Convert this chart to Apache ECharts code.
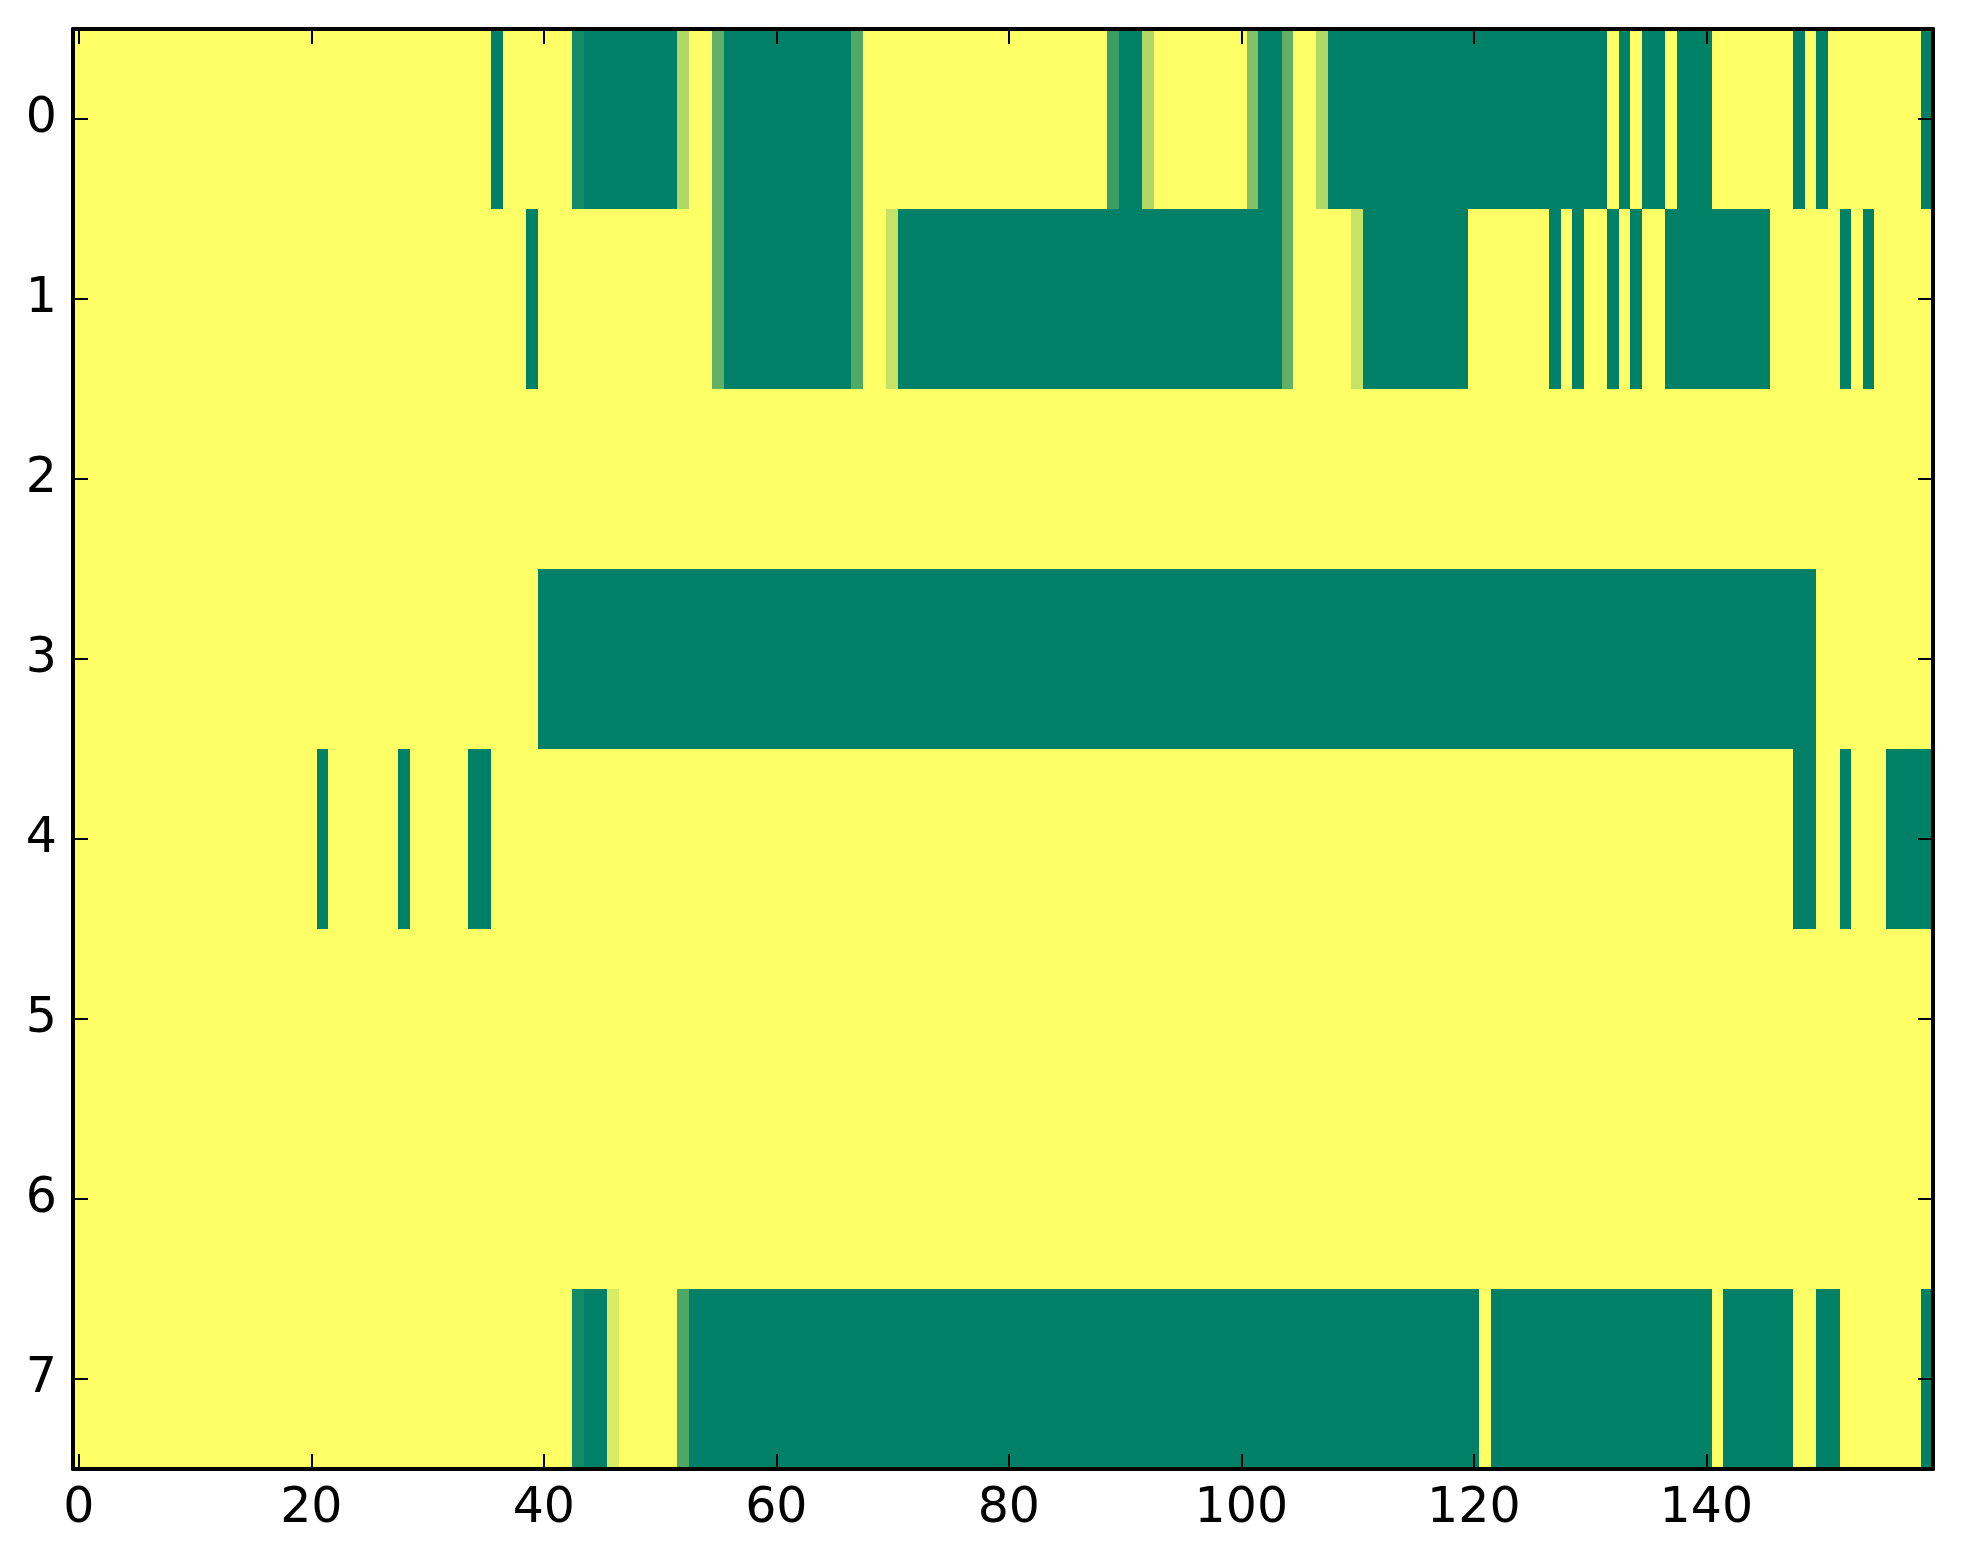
<!DOCTYPE html>
<html>
<head>
<meta charset="utf-8">
<script src="https://cdn.jsdelivr.net/npm/echarts@6/dist/echarts.min.js"></script>
<style>
html,body{margin:0;padding:0;background:#fff;}
#chart{width:1963px;height:1564px;}
</style>
</head>
<body>
<div id="chart"></div>
<script>
// column categories 0..159 and row categories 0..7
const colLabels = [];
for (let i = 0; i < 160; i++) colLabels.push(String(i));
const rowLabels = ['0','1','2','3','4','5','6','7'];

const row0 = [
0,0,0,0,0,0,0,0,0,0, 0,0,0,0,0,0,0,0,0,0,
0,0,0,0,0,0,0,0,0,0, 0,0,0,0,0,0,1,0,0,0,
0,0,0,0.92,1,1,1,1,1,1, 1,1,0.31,0,0,0.62,1,1,1,1,
1,1,1,1,1,1,1,0.68,0,0, 0,0,0,0,0,0,0,0,0,0,
0,0,0,0,0,0,0,0,0,0.77, 1,1,0.31,0,0,0,0,0,0,0,
0,0.49,1,1,0.62,0,0,0.31,1,1, 1,1,1,1,1,1,1,1,1,1,
1,1,1,1,1,1,1,1,1,1, 1,1,0,1,0,1,1,0,1,1,
1,0,0,0,0,0,0,0,1,0, 1,0,0,0,0,0,0,0,0,1
];
const row1 = [
0,0,0,0,0,0,0,0,0,0, 0,0,0,0,0,0,0,0,0,0,
0,0,0,0,0,0,0,0,0,0, 0,0,0,0,0,0,0,0,0,1,
0,0,0,0,0,0,0,0,0,0, 0,0,0,0,0,0.62,1,1,1,1,
1,1,1,1,1,1,1,0.68,0,0, 0.22,1,1,1,1,1,1,1,1,1,
1,1,1,1,1,1,1,1,1,1, 1,1,1,1,1,1,1,1,1,1,
1,1,1,1,0.62,0,0,0,0,0, 0.22,1,1,1,1,1,1,1,1,1,
0,0,0,0,0,0,0,1,0,1, 0,0,1,0,1,0,0,1,1,1,
1,1,1,1,1,1,0,0,0,0, 0,0,1,0,1,0,0,0,0,0
];
const row2 = [
0,0,0,0,0,0,0,0,0,0, 0,0,0,0,0,0,0,0,0,0,
0,0,0,0,0,0,0,0,0,0, 0,0,0,0,0,0,0,0,0,0,
0,0,0,0,0,0,0,0,0,0, 0,0,0,0,0,0,0,0,0,0,
0,0,0,0,0,0,0,0,0,0, 0,0,0,0,0,0,0,0,0,0,
0,0,0,0,0,0,0,0,0,0, 0,0,0,0,0,0,0,0,0,0,
0,0,0,0,0,0,0,0,0,0, 0,0,0,0,0,0,0,0,0,0,
0,0,0,0,0,0,0,0,0,0, 0,0,0,0,0,0,0,0,0,0,
0,0,0,0,0,0,0,0,0,0, 0,0,0,0,0,0,0,0,0,0
];
const row3 = [
0,0,0,0,0,0,0,0,0,0, 0,0,0,0,0,0,0,0,0,0,
0,0,0,0,0,0,0,0,0,0, 0,0,0,0,0,0,0,0,0,0,
1,1,1,1,1,1,1,1,1,1, 1,1,1,1,1,1,1,1,1,1,
1,1,1,1,1,1,1,1,1,1, 1,1,1,1,1,1,1,1,1,1,
1,1,1,1,1,1,1,1,1,1, 1,1,1,1,1,1,1,1,1,1,
1,1,1,1,1,1,1,1,1,1, 1,1,1,1,1,1,1,1,1,1,
1,1,1,1,1,1,1,1,1,1, 1,1,1,1,1,1,1,1,1,1,
1,1,1,1,1,1,1,1,1,1, 0,0,0,0,0,0,0,0,0,0
];
const row4 = [
0,0,0,0,0,0,0,0,0,0, 0,0,0,0,0,0,0,0,0,0,
0,1,0,0,0,0,0,0,1,0, 0,0,0,0,1,1,0,0,0,0,
0,0,0,0,0,0,0,0,0,0, 0,0,0,0,0,0,0,0,0,0,
0,0,0,0,0,0,0,0,0,0, 0,0,0,0,0,0,0,0,0,0,
0,0,0,0,0,0,0,0,0,0, 0,0,0,0,0,0,0,0,0,0,
0,0,0,0,0,0,0,0,0,0, 0,0,0,0,0,0,0,0,0,0,
0,0,0,0,0,0,0,0,0,0, 0,0,0,0,0,0,0,0,0,0,
0,0,0,0,0,0,0,0,1,1, 0,0,1,0,0,0,1,1,1,1
];
const row5 = [
0,0,0,0,0,0,0,0,0,0, 0,0,0,0,0,0,0,0,0,0,
0,0,0,0,0,0,0,0,0,0, 0,0,0,0,0,0,0,0,0,0,
0,0,0,0,0,0,0,0,0,0, 0,0,0,0,0,0,0,0,0,0,
0,0,0,0,0,0,0,0,0,0, 0,0,0,0,0,0,0,0,0,0,
0,0,0,0,0,0,0,0,0,0, 0,0,0,0,0,0,0,0,0,0,
0,0,0,0,0,0,0,0,0,0, 0,0,0,0,0,0,0,0,0,0,
0,0,0,0,0,0,0,0,0,0, 0,0,0,0,0,0,0,0,0,0,
0,0,0,0,0,0,0,0,0,0, 0,0,0,0,0,0,0,0,0,0
];
const row6 = [
0,0,0,0,0,0,0,0,0,0, 0,0,0,0,0,0,0,0,0,0,
0,0,0,0,0,0,0,0,0,0, 0,0,0,0,0,0,0,0,0,0,
0,0,0,0,0,0,0,0,0,0, 0,0,0,0,0,0,0,0,0,0,
0,0,0,0,0,0,0,0,0,0, 0,0,0,0,0,0,0,0,0,0,
0,0,0,0,0,0,0,0,0,0, 0,0,0,0,0,0,0,0,0,0,
0,0,0,0,0,0,0,0,0,0, 0,0,0,0,0,0,0,0,0,0,
0,0,0,0,0,0,0,0,0,0, 0,0,0,0,0,0,0,0,0,0,
0,0,0,0,0,0,0,0,0,0, 0,0,0,0,0,0,0,0,0,0
];
const row7 = [
0,0,0,0,0,0,0,0,0,0, 0,0,0,0,0,0,0,0,0,0,
0,0,0,0,0,0,0,0,0,0, 0,0,0,0,0,0,0,0,0,0,
0,0,0,0.92,1,1,0.15,0,0,0, 0,0,0.69,1,1,1,1,1,1,1,
1,1,1,1,1,1,1,1,1,1, 1,1,1,1,1,1,1,1,1,1,
1,1,1,1,1,1,1,1,1,1, 1,1,1,1,1,1,1,1,1,1,
1,1,1,1,1,1,1,1,1,1, 1,1,1,1,1,1,1,1,1,1,
1,0,1,1,1,1,1,1,1,1, 1,1,1,1,1,1,1,1,1,1,
1,0,1,1,1,1,1,1,0,0, 1,1,0,0,0,0,0,0,0,1
];
const rows = [row0, row1, row2, row3, row4, row5, row6, row7];

const cellData = [];
rows.forEach((r, y) => r.forEach((v, x) => cellData.push([x, y, v])));

const FONT = 'DejaVu Sans';
const spine = { show: true, onZero: false, lineStyle: { color: '#000', width: 4 } };
const tick = (iv) => ({ show: true, inside: true, length: 15, interval: iv, alignWithLabel: true, lineStyle: { color: '#000', width: 2 } });

function renderCell(params, api) {
  const c = api.coord([api.value(0), api.value(1)]);
  const s = api.size([1, 1]);
  const x0 = Math.floor(c[0] - s[0] / 2), x1 = Math.ceil(c[0] + s[0] / 2);
  const y0 = Math.floor(c[1] - s[1] / 2), y1 = Math.ceil(c[1] + s[1] / 2);
  return {
    type: 'rect',
    shape: { x: x0, y: y0, width: x1 - x0, height: y1 - y0 },
    style: { fill: api.visual('color'), stroke: null }
  };
}

const chart = echarts.init(document.getElementById('chart'));
chart.setOption({
  animation: false,
  backgroundColor: '#ffffff',
  grid: { left: 73, right: 30, top: 29, bottom: 95, containLabel: false },
  xAxis: [
    { type: 'category', data: colLabels, position: 'bottom', z: 10,
      axisLine: spine, axisTick: tick(19), splitLine: { show: false },
      axisLabel: { interval: 19, margin: 16, fontFamily: FONT, fontSize: 49, color: '#000' } },
    { type: 'category', data: colLabels, position: 'top', z: 10,
      axisLine: spine, axisTick: tick(19), splitLine: { show: false },
      axisLabel: { show: false } }
  ],
  yAxis: [
    { type: 'category', data: rowLabels, inverse: true, position: 'left', z: 10,
      axisLine: spine, axisTick: tick(0), splitLine: { show: false },
      axisLabel: { margin: 16, fontFamily: FONT, fontSize: 49, color: '#000' } },
    { type: 'category', data: rowLabels, inverse: true, position: 'right', z: 10,
      axisLine: spine, axisTick: tick(0), splitLine: { show: false },
      axisLabel: { show: false } }
  ],
  visualMap: {
    show: false, type: 'continuous', min: 0, max: 1, dimension: 2, seriesIndex: 0,
    inRange: { color: ['#ffff66', '#008066'] }
  },
  series: [{
    type: 'custom', xAxisIndex: 0, yAxisIndex: 0, data: cellData,
    encode: { x: 0, y: 1 },
    renderItem: renderCell,
    emphasis: { disabled: true }, silent: true
  }]
});
</script>
</body>
</html>
